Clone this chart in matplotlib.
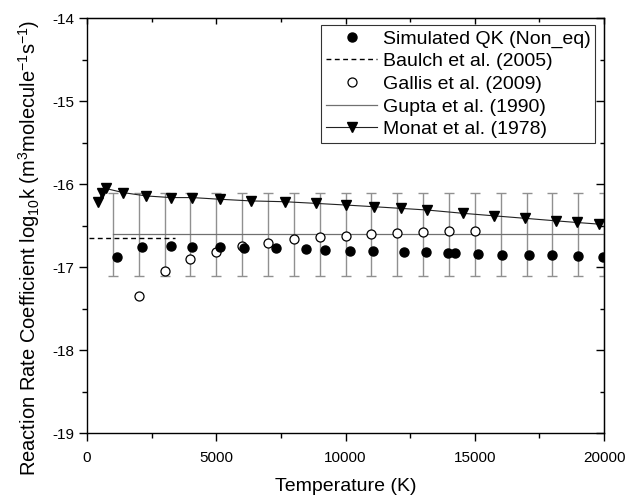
import matplotlib
matplotlib.use("Agg")
import matplotlib.pyplot as plt
from matplotlib.ticker import MultipleLocator

plt.rcParams['font.family'] = ['Liberation Sans', 'DejaVu Sans']
plt.rcParams['axes.unicode_minus'] = False
plt.rcParams['mathtext.fontset'] = 'custom'
plt.rcParams['mathtext.rm'] = 'Liberation Sans'
plt.rcParams['mathtext.it'] = 'Liberation Sans'

# Simulated QK (non-equilibrium)
qk_T = [1170, 2115, 3250, 4060, 5130, 6070, 7300, 8460, 9210, 10170, 11050,
        12275, 13115, 13980, 14240, 15140, 16040, 17110, 17980, 19000, 19970]
qk_k = [-16.88, -16.75, -16.74, -16.755, -16.76, -16.77, -16.77, -16.78, -16.79,
        -16.80, -16.80, -16.82, -16.82, -16.83, -16.83, -16.84, -16.85, -16.855,
        -16.855, -16.86, -16.87]

# Baulch et al. (2005)
baulch_T = [80, 3400]
baulch_k = [-16.65, -16.65]

# Gallis et al. (2009)
gallis_T = [2000, 3000, 4000, 5000, 6000, 7000, 8000, 9000, 10000, 11000,
            12000, 13000, 14000, 15000]
gallis_k = [-17.34, -17.045, -16.905, -16.815, -16.74, -16.71, -16.66, -16.64,
            -16.62, -16.60, -16.59, -16.575, -16.56, -16.56]

# Gupta et al. (1990) with uncertainty band
gupta_T = [1000, 2000, 3000, 4000, 5000, 6000, 7000, 8000, 9000, 10000,
           11000, 12000, 13000, 14000, 15000, 16000, 17000, 18000, 19000, 20000]
gupta_k = [-16.6] * 20
gupta_err = [0.5] * 20

# Monat et al. (1978)
monat_T = [440, 590, 720, 1400, 2280, 3250, 4080, 5130, 6330, 7660, 8860,
           10020, 11100, 12140, 13160, 14560, 15750, 16950, 18130, 18940, 19810]
monat_k = [-16.21, -16.10, -16.05, -16.10, -16.14, -16.16, -16.16, -16.18,
           -16.20, -16.21, -16.23, -16.25, -16.27, -16.29, -16.31, -16.35,
           -16.38, -16.41, -16.44, -16.46, -16.48]

fig = plt.figure(figsize=(6.26, 5.0), dpi=100)
ax = fig.add_axes([0.139, 0.1334, 0.826, 0.830])

ax.errorbar(gupta_T, gupta_k, yerr=gupta_err, fmt='none', ecolor='#909090',
            elinewidth=1.0, capsize=3.5, capthick=1.0, zorder=1)
gupta_line, = ax.plot(gupta_T, gupta_k, '-', color='#707070', lw=0.9, zorder=2)
baulch_line, = ax.plot(baulch_T, baulch_k, color='black', lw=1.0,
                       dashes=(3.5, 2.5), zorder=2)
monat_line, = ax.plot(monat_T, monat_k, '-', color='#222222', lw=0.8,
                      marker='v', ms=7.5, mfc='black', mec='black', zorder=3)
gallis_line, = ax.plot(gallis_T, gallis_k, 'o', ms=6.5, mfc='white',
                       mec='black', mew=0.9, zorder=4)
qk_line, = ax.plot(qk_T, qk_k, 'o', ms=6.5, color='black', zorder=5)

ax.set_xlim(0, 20000)
ax.set_ylim(-19, -14)
ax.xaxis.set_major_locator(MultipleLocator(5000))
ax.xaxis.set_minor_locator(MultipleLocator(2500))
ax.yaxis.set_major_locator(MultipleLocator(1))
ax.yaxis.set_minor_locator(MultipleLocator(0.5))
ax.tick_params(which='major', direction='out', length=6, width=1.0,
               labelsize=11)
ax.tick_params(which='minor', direction='out', length=3.5, width=1.0)
ax.tick_params(axis='x', which='major', pad=7)
ax.tick_params(axis='y', which='major', pad=3)

for s in ax.spines.values():
    s.set_linewidth(1.0)

# mirrored inward ticks on the top and right sides
top = ax.secondary_xaxis('top')
top.xaxis.set_major_locator(MultipleLocator(5000))
top.xaxis.set_minor_locator(MultipleLocator(2500))
top.tick_params(which='both', direction='in', labeltop=False, width=1.0)
top.tick_params(which='major', length=4.5)
top.tick_params(which='minor', length=3)
right = ax.secondary_yaxis('right')
right.yaxis.set_major_locator(MultipleLocator(1))
right.yaxis.set_minor_locator(MultipleLocator(0.5))
right.tick_params(which='both', direction='in', labelright=False, width=1.0)
right.tick_params(which='major', length=5.5)
right.tick_params(which='minor', length=3)

ax.set_xlabel('Temperature (K)', fontsize=14, labelpad=9)
ax.set_ylabel(r'Reaction Rate Coefficient log$_{10}$k (m$^{3}$molecule$^{-1}$s$^{-1}$)',
              fontsize=14.5)
ax.yaxis.set_label_coords(-0.087, 0.447)

leg = ax.legend([qk_line, baulch_line, gallis_line, gupta_line, monat_line],
                ['Simulated QK (Non_eq)', 'Baulch et al. (2005)',
                 'Gallis et al. (2009)', 'Gupta et al. (1990)',
                 'Monat et al. (1978)'],
                loc='upper right', bbox_to_anchor=(0.983, 0.984),
                fontsize=14, frameon=True, fancybox=False, borderpad=0.25,
                labelspacing=0.26, handlelength=2.6, handletextpad=0.3,
                borderaxespad=0.0, numpoints=1)
leg.get_frame().set_edgecolor('black')
leg.get_frame().set_linewidth(0.8)

fig.savefig('out.png', dpi=100)
